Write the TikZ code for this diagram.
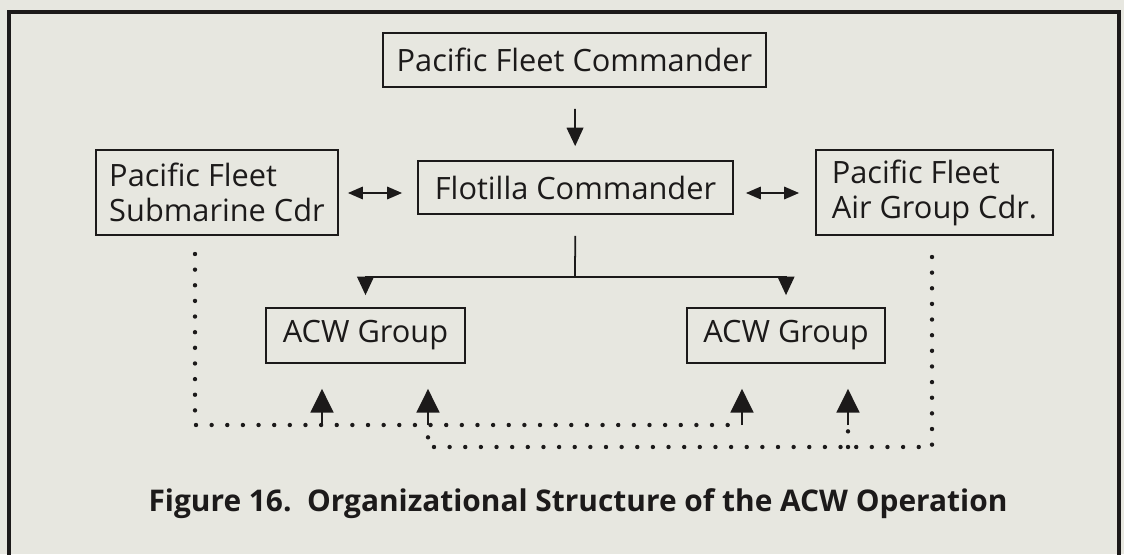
\documentclass[tikz,border=0pt]{standalone}
\usepackage{fontspec}
\setmainfont{Open Sans}
\usetikzlibrary{positioning,arrows.meta}
\definecolor{paper}{HTML}{E7E7E0}
\definecolor{ink}{HTML}{1C1A1A}

\begin{document}
\begin{tikzpicture}[x=0.02cm, y=-0.02cm,
    ink, line width=1pt,
    box/.style={draw, inner sep=0pt, align=left, font=\fontsize{17.5}{20}\selectfont},
    dots/.style={line width=2.5pt, line cap=round, dash pattern=on 0pt off 8.9pt},
    down/.style={-{Triangle[length=10.5pt,width=9.5pt]}},
    both/.style={{Triangle[length=8.5pt,width=7pt]}-{Triangle[length=8.5pt,width=7pt]}, line width=1.2pt},
    uparr/.style={-{Triangle[length=13.5pt,width=13pt]}, line width=1.2pt}]
    \fill[paper] (0,0) rectangle (1124,554);
    \useasboundingbox (0,0) rectangle (1124,554);
    \draw[line width=2.4pt] (9,570) -- (9,12) -- (1119,12) -- (1119,570);

    \node[box, minimum width=7.66cm, minimum height=1.08cm] (pfc) at (574.5,60) {Pacific Fleet Commander};
    \node[box, minimum width=6.3cm, minimum height=1.06cm] (flot) at (575.5,187.5) {Flotilla Commander};
    \node[box, minimum width=4.84cm, minimum height=1.7cm] (sub) at (217,192.5) {Pacific Fleet\\Submarine Cdr};
    \node[box, minimum width=4.74cm, minimum height=1.7cm] (air) at (934.5,192.5) {Pacific Fleet\\Air Group Cdr.};
    \node[box, minimum width=3.98cm, minimum height=1.1cm] (acwL) at (365.5,335.5) {ACW Group};
    \node[box, minimum width=3.96cm, minimum height=1.1cm] (acwR) at (786,335.5) {ACW Group};
    \node[font=\fontsize{17}{20}\selectfont\bfseries] (cap) at (578,504)
        {Figure 16.\ \ Organizational Structure of the ACW Operation};

    % command lines
    \draw[down, shorten <=0.42cm, shorten >=0.28cm] (pfc) -- (flot);
    \draw[both, shorten <=0.18cm, shorten >=0.3cm] (sub.east |- 0,193) -- (flot.west |- 0,193);
    \draw[both, shorten <=0.24cm, shorten >=0.32cm] (flot.east |- 0,193) -- (air.west |- 0,193);
    \coordinate (fork) at (575,277);
    \draw[shorten <=0.42cm] (flot) -- (fork);
    \draw[down, shorten >=0.24cm] (fork) -| (acwL.north);
    \draw[down, shorten >=0.24cm] (fork) -| (acwR.north);

    % support lines
    \coordinate (sd) at (195,254);
    \coordinate (sc) at (195,425);
    \coordinate (ad) at (932,257);
    \coordinate (ac) at (932,447);
    \coordinate (t1) at (322,425);
    \coordinate (t2) at (428,425);
    \coordinate (t3) at (742,425);
    \coordinate (t4) at (848,425);
    \draw[dots] (sd) -- (sc) -- (t3);
    \draw[dots] (ad) -- (ac) -- (ac -| t2) -- (t2);
    \draw[dots] (ac -| t4) -- (t4);
    \draw[uparr, shorten >=0.5cm] (t1) -- (t1 |- acwL.south);
    \draw[uparr, shorten >=0.5cm] (t2) -- (t2 |- acwL.south);
    \draw[uparr, shorten >=0.5cm] (t3) -- (t3 |- acwR.south);
    \draw[uparr, shorten >=0.5cm] (t4) -- (t4 |- acwR.south);
\end{tikzpicture}
\end{document}
